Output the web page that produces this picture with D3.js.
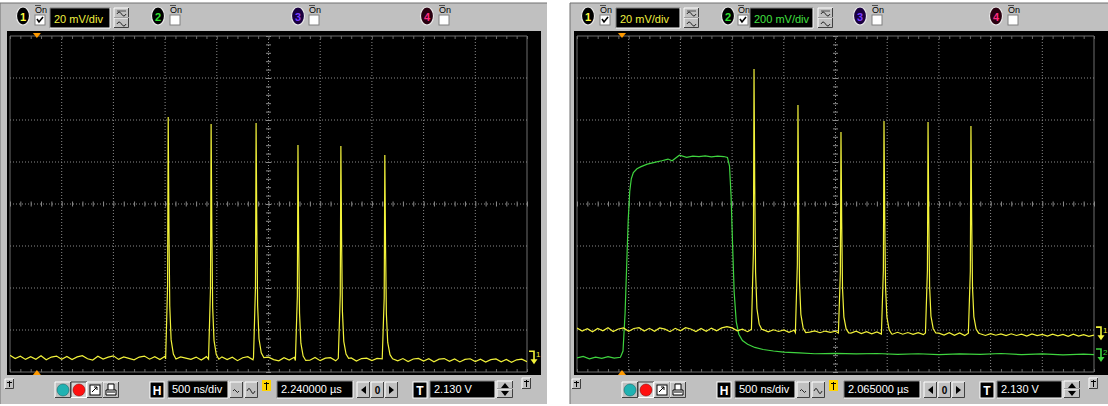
<!DOCTYPE html>
<html><head><meta charset="utf-8">
<script src="https://cdn.jsdelivr.net/npm/d3@7"></script>
<style>
body{margin:0;background:#fff;}
svg{display:block;font-family:"Liberation Sans",Arial,sans-serif;}
</style>
</head><body>
<svg id="c" width="1108" height="406"></svg>
<script>
// ---------------- DATA ----------------
const gridTimesNs = [0,500,1000,1500,2000,2500,3000,3500,4000,4500,5000];
const ch1GridMv = [-80,-60,-40,-20,0,20,40,60,80];
const sampleStepNs = 50;

const leftYellowBase = [
-72.0,-73.6,-72.5,-74.0,-72.7,-73.9,-72.3,-74.2,-72.9,-72.4,
-73.9,-72.6,-74.1,-72.8,-72.2,-73.7,-74.3,-72.5,-73.8,-72.9,
-72.3,-74.0,-72.8,-73.5,-74.2,-72.9,-72.4,-73.9,-72.7,-74.1,
-72.5,-73.8,-74.4,-72.8,-73.4,-74.0,-72.9,-74.3,-72.7,-73.9,
-74.4,-72.8,-74.1,-73.0,-74.6,-73.2,-72.7,-74.2,-73.1,-74.4,
-72.9,-74.1,-74.7,-73.2,-74.3,-73.0,-74.5,-73.3,-74.4,-73.1,
-74.6,-73.4,-73.2,-74.7,-73.5,-74.5,-73.3,-74.8,-73.6,-73.4,
-74.6,-73.5,-74.9,-73.7,-73.4,-74.7,-73.6,-75.0,-73.8,-73.5,
-74.8,-73.7,-75.1,-73.9,-73.6,-74.9,-73.8,-75.2,-74.0,-73.7,
-75.0,-73.9,-75.3,-74.1,-73.8,-75.1,-74.0,-75.4,-74.2,-73.9,
-75.1];
const leftSpikeT = [1530,1945,2380,2785,3200,3625];
const leftSpikePeak = [41.4,38.1,38.6,28.1,27.6,23.3];

const rightYellowBase = [
-59.1,-60.5,-59.4,-60.8,-59.3,-60.4,-58.9,-60.7,-59.5,-59.0,
-60.6,-59.3,-58.9,-60.5,-59.2,-60.6,-59.0,-59.6,-60.8,-59.2,
-60.4,-58.9,-59.5,-60.7,-59.3,-60.6,-59.1,-60.4,-59.0,-58.4,
-59.0,-60.4,-59.6,-60.8,-59.7,-60.5,-59.8,-60.9,-59.9,-60.7,
-60.0,-61.1,-60.1,-61.2,-60.3,-61.0,-60.4,-61.3,-60.5,-61.1,
-60.6,-61.4,-60.7,-61.5,-60.6,-61.7,-60.8,-61.8,-60.9,-61.9,
-61.0,-62.0,-61.1,-62.0,-61.2,-62.1,-61.3,-62.2,-61.4,-62.1,
-61.5,-62.4,-61.3,-62.5,-61.4,-62.6,-61.5,-62.4,-61.8,-62.6,
-61.7,-62.5,-61.9,-62.7,-61.8,-62.6,-62.0,-62.9,-61.9,-62.7,
-62.1,-62.9,-62.0,-62.8,-62.1,-63.0,-62.0,-62.9,-62.2,-63.0,
-62.4];
const rightSpikeT = [1712,2137,2553,2969,3395,3810];
const rightSpikePeak = [64.3,47.1,34.3,39.5,39.0,37.1];

// spike shape (time offset ns, fraction of height)
const spikeDt   = [-25,-6,0,7,15,28,50,75];
const spikeFrac = [0,0.3,1,0.55,0.22,0.08,0.02,0];

const greenT = [0,60,120,180,240,300,360,420,445,465,480,495,510,525,545,580,620,680,750,820,880,920,990,1060,1120,1180,1240,1300,1360,1420,1455,1475,1490,1505,1520,1540,1565,1600,1650,1720,1800,1900,2000,2150,2300,2500,2700,2900,3100,3300,3500,3700,3900,4100,4300,4500,4700,4900,5000];
const greenV = [-733,-726,-737,-729,-735,-727,-734,-730,-700,-520,-300,-80,60,120,150,168,178,190,198,206,214,206,232,222,228,226,229,224,228,226,222,180,40,-200,-420,-560,-620,-650,-668,-683,-693,-700,-705,-709,-713,-711,-714,-712,-716,-713,-717,-714,-716,-712,-717,-714,-718,-715,-717];

const trigTimeNs = [260, 435];
const groundLeftCh1 = -73;
const groundRightCh1 = -61.5;
const groundRightCh2 = -719;

const topLabelsLeft  = ["20 mV/div"];
const topLabelsRight = ["20 mV/div", "200 mV/div"];
const timebaseLabels = ["500 ns/div", "500 ns/div"];
const delayLabels    = ["2.240000 \u00b5s", "2.065000 \u00b5s"];
const trigLevelLabels= ["2.130 V", "2.130 V"];

// ---------------- COLORS ----------------
const GRAY = "#c0c0c0", DARK = "#808080", YEL = "#f2f23a", GRN = "#3fd43f";

const svg = d3.select("#c");

function bevel(g, x, y, w, h, pressed, fill) {
  g.append("rect").attr("x", x).attr("y", y).attr("width", w).attr("height", h).attr("fill", fill || GRAY);
  const tl = pressed ? "#404040" : "#ffffff", br = pressed ? "#ffffff" : "#404040";
  g.append("path").attr("d", `M${x},${y+h}V${y}H${x+w}`).attr("fill","none").attr("stroke", tl);
  g.append("path").attr("d", `M${x},${y+h-0.5}H${x+w-0.5}V${y}`).attr("fill","none").attr("stroke", br);
}
function blackBox(g, x, y, w, h, text, color) {
  g.append("rect").attr("x", x).attr("y", y).attr("width", w).attr("height", h).attr("fill", "#000");
  g.append("path").attr("d", `M${x},${y+h}V${y}H${x+w}`).attr("fill","none").attr("stroke", DARK);
  g.append("path").attr("d", `M${x},${y+h}H${x+w}V${y}`).attr("fill","none").attr("stroke", "#fff");
  g.append("text").attr("x", x+4).attr("y", y+h-5).attr("fill", color).attr("font-size", 11).text(text);
}
function chanOval(g, cx, digit, fill, col) {
  g.append("ellipse").attr("cx", cx).attr("cy", 16).attr("rx", 6.5).attr("ry", 9)
    .attr("fill", fill).attr("stroke", "#e8e8e8").attr("stroke-width", 1.2);
  g.append("text").attr("x", cx).attr("y", 20.5).attr("text-anchor","middle")
    .attr("font-size", 11).attr("font-weight","bold").attr("fill", col).text(digit);
}
function onBox(g, x, checked) {
  g.append("text").attr("x", x).attr("y", 13).attr("font-size", 9).attr("fill","#000").text("On");
  g.append("line").attr("x1", x).attr("x2", x+6).attr("y1", 5.5).attr("y2", 5.5).attr("stroke","#000").attr("stroke-width",0.6);
  g.append("rect").attr("x", x).attr("y", 15).attr("width", 10).attr("height", 10).attr("fill","#fff")
    .attr("stroke", DARK);
  if (checked) g.append("path").attr("d", `M${x+2},19L${x+4},22L${x+8},17`)
    .attr("fill","none").attr("stroke","#000").attr("stroke-width",1.6);
}
function couplingBtns(g, x) {
  bevel(g, x, 8, 15, 10, false);
  bevel(g, x, 18, 15, 10, false);
  g.append("path").attr("d", `M${x+3},14q2,-4 4.5,0t4.5,0`).attr("fill","none").attr("stroke","#000").attr("stroke-width",0.8);
  g.append("line").attr("x1",x+3).attr("x2",x+12).attr("y1",11).attr("y2",11).attr("stroke","#000").attr("stroke-width",0.6);
  g.append("path").attr("d", `M${x+3},24q2,-4 4.5,0t4.5,0`).attr("fill","none").attr("stroke","#000").attr("stroke-width",0.8);
}

function drawPanel(p) {
  const g = svg.append("g").attr("transform", `translate(${p.ox},0)`);
  // window
  g.append("rect").attr("x", p.winX0).attr("y", 3).attr("width", p.winW).attr("height", 401).attr("fill", GRAY);
  g.append("path").attr("d", `M${p.winX0},404V3H${p.winX0+p.winW}`).attr("fill","none").attr("stroke","#707070");
  // screen
  g.append("rect").attr("x", 7).attr("y", 31).attr("width", p.blackW).attr("height", 344).attr("fill","#000");
  const x = d3.scaleLinear().domain([0, 5000]).range([10, 527]);
  const y1 = d3.scaleLinear().domain([-80, 80]).range([372, 36]);
  const y2 = d3.scaleLinear().domain([-800, 800]).range([372, 36]);
  const grid = g.append("g");
  gridTimesNs.forEach((t, i) => {
    const solid = i === 0 || i === gridTimesNs.length - 1;
    grid.append("line").attr("x1", x(t)).attr("x2", x(t)).attr("y1", y1(80)).attr("y2", y1(-80))
      .attr("stroke", solid ? "#6e6e6e" : "#8a8a8a").attr("stroke-dasharray", solid ? null : "1,2");
  });
  ch1GridMv.forEach((v, i) => {
    const solid = i === 0 || i === ch1GridMv.length - 1;
    grid.append("line").attr("x1", x(0)).attr("x2", x(5000)).attr("y1", y1(v)).attr("y2", y1(v))
      .attr("stroke", solid ? "#6e6e6e" : "#8a8a8a").attr("stroke-dasharray", solid ? null : "1,2");
  });
  // minor ticks on center lines via axes
  const minorX = d3.axisBottom(x).tickValues(d3.range(0, 5001, 100)).tickSize(5).tickFormat("");
  const ax = grid.append("g").attr("transform", `translate(0,${y1(0) - 2.5})`).call(minorX);
  ax.select(".domain").remove();
  ax.selectAll("line").attr("stroke", "#8a8a8a");
  const minorY = d3.axisRight(y1).tickValues(d3.range(-80, 81, 4)).tickSize(5).tickFormat("");
  const ay = grid.append("g").attr("transform", `translate(${x(2500) - 2.5},0)`).call(minorY);
  ay.select(".domain").remove();
  ay.selectAll("line").attr("stroke", "#8a8a8a");
  // edge ticks
  const edgeX = d3.axisBottom(x).tickValues(d3.range(0, 5001, 100)).tickSize(3).tickFormat("");
  [36, 369].forEach(yy => {
    const e = grid.append("g").attr("transform", `translate(0,${yy})`).call(edgeX);
    e.select(".domain").remove(); e.selectAll("line").attr("stroke", "#6a6a6a");
  });

  // traces
  const clipId = "clip" + p.ox;
  g.append("clipPath").attr("id", clipId).append("rect").attr("x", 10).attr("y", 36).attr("width", 517).attr("height", 336);
  const tg = g.append("g").attr("clip-path", `url(#${clipId})`);
  if (p.green) {
    const pts = greenT.map((t, i) => [t, greenV[i]]);
    tg.append("path").attr("d", d3.line().x(d => x(d[0])).y(d => y2(d[1]))(pts))
      .attr("fill","none").attr("stroke", GRN).attr("stroke-width", 1.2);
  }
  const pts = [];
  p.base.forEach((v, i) => {
    const t = i * sampleStepNs;
    if (!p.spT.some(s => t > s - 30 && t < s + 80)) pts.push([t, v]);
  });
  p.spT.forEach((s, k) => {
    const b = p.base[Math.round(s / sampleStepNs)];
    spikeDt.forEach((dt, j) => pts.push([s + dt, b + (p.spP[k] - b) * spikeFrac[j]]));
  });
  pts.sort((a, b) => a[0] - b[0]);
  tg.append("path").attr("d", d3.line().x(d => x(d[0])).y(d => y1(d[1]))(pts))
    .attr("fill","none").attr("stroke", YEL).attr("stroke-width", 1.2);

  // trigger markers
  const tx = x(p.trig);
  g.append("path").attr("d", `M${tx-4},33L${tx+4},33L${tx},38Z`).attr("fill", "#ff9a00");
  g.append("path").attr("d", `M${tx-4},375L${tx+4},375L${tx},370Z`).attr("fill", "#ff9a00");

  // ground markers
  function gnd(v, scale, col, digit) {
    const yy = scale(v);
    const gx = 529;
    g.append("path").attr("d", `M${gx},${yy-6}H${gx+5}V${yy+3}`).attr("fill","none").attr("stroke", col).attr("stroke-width", 1.6);
    g.append("path").attr("d", `M${gx+1.5},${yy+2}L${gx+8.5},${yy+2}L${gx+5},${yy+7}Z`).attr("fill", col);
    g.append("text").attr("x", gx+7).attr("y", yy).attr("font-size", 8).attr("fill", col).text(digit);
  }
  p.grounds.forEach(d => gnd(d.v, d.ch === 1 ? y1 : y2, d.ch === 1 ? YEL : GRN, String(d.ch)));

  // top toolbar
  const tb = g.append("g");
  p.top(tb);

  // bottom toolbar
  const bb = g.append("g");
  bevel(bb, 5, 379, 9, 10, false);
  bb.append("path").attr("d", "M9.5,381V387M7,382.5H12").attr("stroke","#000").attr("stroke-width",1);
  bevel(bb, 55, 382, 16, 16, false);
  bb.append("circle").attr("cx", 63).attr("cy", 390).attr("r", 6).attr("fill", "#20b2b2").attr("stroke","#0a5a5a").attr("stroke-width",0.5);
  bevel(bb, 71, 382, 16, 16, true, "#d4d4d4");
  bb.append("circle").attr("cx", 79).attr("cy", 390).attr("r", 6).attr("fill", "#ff1010").attr("stroke","#700").attr("stroke-width",0.5);
  bevel(bb, 87, 382, 16, 16, false);
  bb.append("rect").attr("x", 90).attr("y", 385).attr("width", 10).attr("height", 10).attr("fill","#fff").attr("stroke","#000");
  bb.append("path").attr("d", "M92,392L97,387M94,387H97V390").attr("fill","none").attr("stroke","#000");
  bevel(bb, 103, 382, 16, 16, false);
  bb.append("path").attr("d", "M106,390H116V395H106ZM108,390V384H114V390").attr("fill","#fff").attr("stroke","#000");
  bb.append("path").attr("d", "M107,392H115").attr("stroke","#000");
  // H button
  bb.append("rect").attr("x", 150).attr("y", 382).attr("width", 14).attr("height", 16).attr("fill", "#000").attr("stroke", "#fff");
  bb.append("text").attr("x", 157).attr("y", 395).attr("text-anchor","middle").attr("font-size", 12).attr("font-weight","bold").attr("fill","#fff").text("H");
  blackBox(bb, 168, 381, 60, 17, timebaseLabels[p.idx], "#fff");
  bevel(bb, 230, 382, 13, 16, false);
  bb.append("path").attr("d", "M233,391q1.5,-3 3,0t3,0").attr("fill","none").attr("stroke","#000").attr("stroke-width",0.8);
  bevel(bb, 245, 382, 13, 16, false);
  bb.append("path").attr("d", "M247,391q2,-5 4,0t4,0").attr("fill","none").attr("stroke","#000").attr("stroke-width",0.8);
  bb.append("rect").attr("x", 262).attr("y", 380).attr("width", 9).attr("height", 11).attr("fill", "#ffd400");
  bb.append("path").attr("d", "M266.5,382V390M264,383.5H269").attr("stroke","#000").attr("stroke-width",1);
  blackBox(bb, 277, 381, 76, 17, delayLabels[p.idx], "#fff");
  bevel(bb, 357, 382, 13, 16, false);
  bb.append("path").attr("d", "M361,390L366,386V394Z").attr("fill","#000");
  bevel(bb, 371, 382, 13, 16, false);
  bb.append("text").attr("x", 377.5).attr("y", 394).attr("text-anchor","middle").attr("font-size", 10).attr("font-weight","bold").text("0");
  bevel(bb, 385, 382, 13, 16, false);
  bb.append("path").attr("d", "M394,390L389,386V394Z").attr("fill","#000");
  bb.append("rect").attr("x", 413).attr("y", 382).attr("width", 14).attr("height", 16).attr("fill", "#000").attr("stroke", "#fff");
  bb.append("text").attr("x", 420).attr("y", 395).attr("text-anchor","middle").attr("font-size", 12).attr("font-weight","bold").attr("fill","#fff").text("T");
  blackBox(bb, 430, 381, 65, 17, trigLevelLabels[p.idx], "#fff");
  bevel(bb, 497, 381, 16, 8, false);
  bevel(bb, 497, 389, 16, 9, false);
  bb.append("path").attr("d", "M501,388L505,383L509,388Z M501,391L505,396L509,391Z").attr("fill","#000");
  bevel(bb, 522, 378, 9, 11, false);
  bb.append("path").attr("d", "M526.5,380V387M524,381.5H529").attr("stroke","#000").attr("stroke-width",1);
}

const panels = [
  { idx: 0, ox: 0, winX0: 0, winW: 547, blackW: 534, trig: trigTimeNs[0],
    base: leftYellowBase, spT: leftSpikeT, spP: leftSpikePeak, green: false,
    grounds: [{ ch: 1, v: groundLeftCh1 }],
    top: tb => {
      chanOval(tb, 23, "1", "#000", "#ffff40"); onBox(tb, 35, true);
      blackBox(tb, 50, 8, 60, 20, topLabelsLeft[0], "#f0f040"); couplingBtns(tb, 114);
      chanOval(tb, 158, "2", "#000", "#30e030"); onBox(tb, 170, false);
      chanOval(tb, 298, "3", "#1a0040", "#7a3cff"); onBox(tb, 309, false);
      chanOval(tb, 427, "4", "#2a0010", "#ff2a80"); onBox(tb, 439, false);
    } },
  { idx: 1, ox: 567, winX0: 3, winW: 538, blackW: 534, trig: trigTimeNs[1],
    base: rightYellowBase, spT: rightSpikeT, spP: rightSpikePeak, green: true,
    grounds: [{ ch: 1, v: groundRightCh1 }, { ch: 2, v: groundRightCh2 }],
    top: tb => {
      chanOval(tb, 21, "1", "#000", "#ffff40"); onBox(tb, 33, true);
      blackBox(tb, 49, 8, 64, 20, topLabelsRight[0], "#f0f040"); couplingBtns(tb, 117);
      chanOval(tb, 161, "2", "#000", "#30e030"); onBox(tb, 171, true);
      blackBox(tb, 183, 8, 63, 20, topLabelsRight[1], "#40e040"); couplingBtns(tb, 251);
      chanOval(tb, 293, "3", "#1a0040", "#7a3cff"); onBox(tb, 305, false);
      chanOval(tb, 429, "4", "#2a0010", "#ff2a80"); onBox(tb, 441, false);
    } }
];
panels.forEach(drawPanel);
</script>
</body></html>
